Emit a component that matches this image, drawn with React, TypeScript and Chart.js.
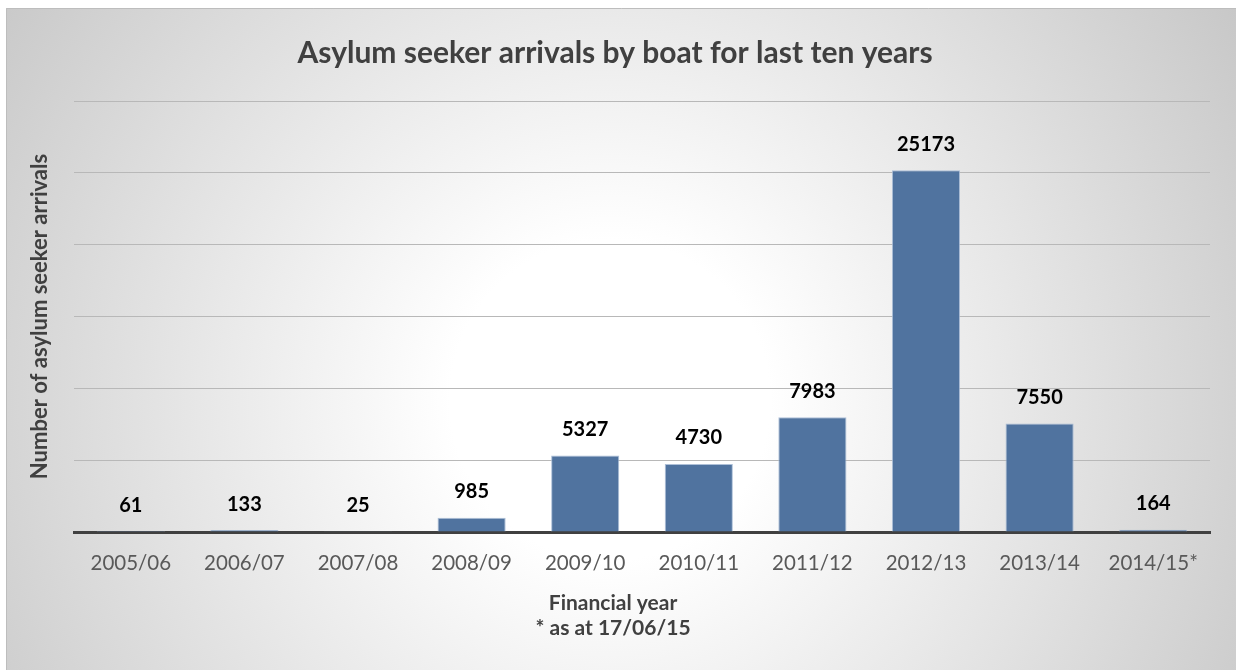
import React, { useEffect, useRef } from "react";
import { Chart, registerables } from "chart.js";

Chart.register(...registerables);

const categories = ["2005/06", "2006/07", "2007/08", "2008/09", "2009/10", "2010/11", "2011/12", "2012/13", "2013/14", "2014/15*"];
const arrivals = [61, 133, 25, 985, 5327, 4730, 7983, 25173, 7550, 164];
const chartTitle = "Asylum seeker arrivals by boat for last ten years";
const yAxisTitle = "Number of asylum seeker arrivals";
const xAxisTitle = ["Financial year", "* as at 17/06/15"];
const yMin = 0;
const yMax = 30000;
const yStep = 5000;

const FONT = "Lato";

const backgroundPlugin = {
  id: "bgPanel",
  beforeDraw(chart: any) {
    const ctx = chart.ctx as CanvasRenderingContext2D;
    const w = chart.width;
    const h = chart.height;
    ctx.save();
    ctx.fillStyle = "#ffffff";
    ctx.fillRect(0, 0, w, h);
    const g = ctx.createRadialGradient(610, 400, 0, 610, 400, 800);
    g.addColorStop(0, "#ffffff");
    g.addColorStop(0.2, "#ffffff");
    g.addColorStop(1, "#c2c2c2");
    ctx.fillStyle = g;
    ctx.fillRect(6, 8, w - 6, h - 8);
    ctx.strokeStyle = "#bdbdbd";
    ctx.lineWidth = 1;
    ctx.beginPath();
    ctx.moveTo(6.5, h);
    ctx.lineTo(6.5, 8.5);
    ctx.lineTo(w, 8.5);
    ctx.stroke();
    ctx.restore();
  },
};

const valueLabelPlugin = {
  id: "valueLabels",
  afterDatasetsDraw(chart: any) {
    const ctx = chart.ctx as CanvasRenderingContext2D;
    const meta = chart.getDatasetMeta(0);
    const data = chart.data.datasets[0].data as number[];
    ctx.save();
    ctx.fillStyle = "#000000";
    ctx.font = `bold 20px ${FONT}`;
    ctx.textAlign = "center";
    ctx.textBaseline = "middle";
    meta.data.forEach((bar: any, i: number) => {
      ctx.fillText(String(data[i]), bar.x, bar.y - 26);
    });
    ctx.restore();
  },
};

const xTitlePlugin = {
  id: "xTitle",
  afterDraw(chart: any) {
    const ctx = chart.ctx as CanvasRenderingContext2D;
    const xScale = chart.scales.x;
    ctx.save();
    ctx.fillStyle = "#404040";
    ctx.font = `bold 21px ${FONT}`;
    ctx.textAlign = "center";
    ctx.textBaseline = "middle";
    const cx = xScale.left + (xScale.right - xScale.left) * 0.4745;
    xAxisTitle.forEach((line, i) => {
      ctx.fillText(line, cx, xScale.top + 71 + i * 25);
    });
    ctx.restore();
  },
};

export default function App() {
  const canvasRef = useRef<HTMLCanvasElement | null>(null);

  useEffect(() => {
    if (!canvasRef.current) return;
    const chart = new Chart(canvasRef.current, {
      type: "bar",
      data: {
        labels: categories,
        datasets: [
          {
            data: arrivals,
            backgroundColor: "#50739f",
            borderColor: "rgba(165,185,212,0.9)",
            borderWidth: 1,
            barPercentage: 0.6,
            categoryPercentage: 1.0,
          },
        ],
      },
      options: {
        responsive: false,
        animation: false,
        layout: { padding: { left: 20, right: 26, top: 10, bottom: 29.5 } },
        plugins: {
          legend: { display: false },
          tooltip: { enabled: false },
          title: {
            display: true,
            text: chartTitle,
            color: "#404040",
            font: { family: FONT, size: 30, weight: "bold", lineHeight: 1.2 },
            padding: { top: 25, bottom: 30 },
          },
        },
        scales: {
          x: {
            grid: { display: false, drawTicks: false },
            border: { display: true, color: "#404040", width: 3 },
            ticks: {
              color: "#595959",
              font: { family: FONT, size: 20.5, lineHeight: 1.2 },
              padding: 19,
              maxRotation: 0,
              autoSkip: false,
            },
            title: { display: false },
            afterFit: (s: any) => {
              s.height = 108.5;
            },
          },
          y: {
            min: yMin,
            max: yMax,
            ticks: { display: false, stepSize: yStep },
            grid: { color: "#b8b8b8", lineWidth: 1, drawTicks: false },
            border: { display: false },
            title: {
              display: true,
              text: yAxisTitle,
              color: "#404040",
              font: { family: FONT, size: 22, weight: "bold", lineHeight: 1.2 },
              padding: { top: 7, bottom: 0 },
            },
            afterFit: (s: any) => {
              s.width = 54;
            },
          },
        },
      },
      plugins: [backgroundPlugin, valueLabelPlugin, xTitlePlugin],
    } as any);
    return () => chart.destroy();
  }, []);

  return (
    <div style={{ position: "fixed", left: 0, top: 0, width: 1236, height: 670 }}>
      <canvas ref={canvasRef} width={1236} height={670} style={{ display: "block", width: 1236, height: 670 }} />
    </div>
  );
}
